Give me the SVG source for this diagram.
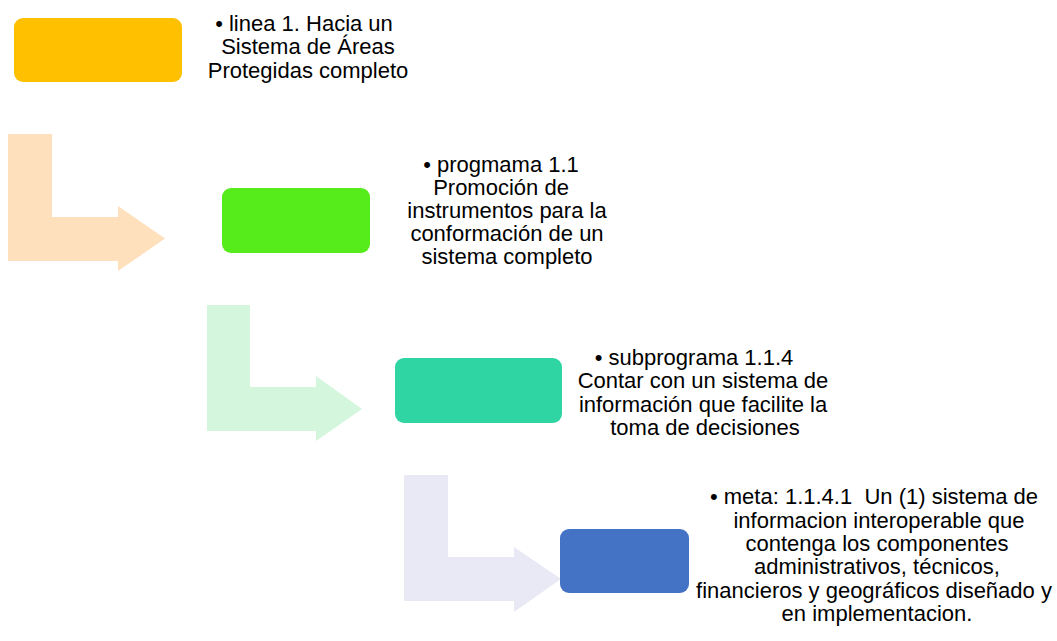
<svg xmlns="http://www.w3.org/2000/svg" width="1057" height="641" viewBox="0 0 1057 641">
<style>
text{font-family:"Liberation Sans",Arial,sans-serif;font-size:22px;fill:#000;text-anchor:middle;white-space:pre}
.box{rx:9px;ry:9px}
</style>
<rect width="1057" height="641" fill="#fff"/>
<g id="connectors">
<path d="M8,134 H52 V217 H118 V206 L165,238.5 L118,271 V261 H8 Z" fill="#FFE0BC"/>
<path d="M207,305 H250 V387 H316 V376 L362,409 L316,441 V431 H207 Z" fill="#D4F6DD"/>
<path d="M404,475 H448 V557 H514 V547 L561,579 L514,612 V601 H404 Z" fill="#E8E9F4"/>
</g>
<g id="node1">
<rect class="box" x="14" y="18" width="168" height="64" fill="#FFC000"/>
<text><tspan x="304" y="31">• linea 1. Hacia un</tspan><tspan x="308" y="54.3">Sistema de Áreas</tspan><tspan x="308" y="77.6">Protegidas completo</tspan></text>
</g>
<g id="node2">
<rect class="box" x="222" y="188" width="148" height="65" fill="#56EB1A"/>
<text><tspan x="501" y="171.5">• progmama 1.1</tspan><tspan x="501" y="194.5">Promoción de</tspan><tspan x="507" y="217.5">instrumentos para la</tspan><tspan x="507" y="240.5">conformación de un</tspan><tspan x="507" y="263.5">sistema completo</tspan></text>
</g>
<g id="node3">
<rect class="box" x="395" y="358" width="167" height="65" fill="#2FD6A3"/>
<text><tspan x="694" y="365">• subprograma 1.1.4</tspan><tspan x="703" y="388.3">Contar con un sistema de</tspan><tspan x="703" y="411.6">información que facilite la</tspan><tspan x="705" y="434.9">toma de decisiones</tspan></text>
</g>
<g id="node4">
<rect class="box" x="560" y="529" width="129" height="64" fill="#4472C4"/>
<text><tspan x="874" y="504.3">• meta: 1.1.4.1  Un (1) sistema de</tspan><tspan x="879" y="527.6">informacion interoperable que</tspan><tspan x="877" y="550.9">contenga los componentes</tspan><tspan x="877" y="574.2">administrativos, técnicos,</tspan><tspan x="874" y="597.5">financieros y geográficos diseñado y</tspan><tspan x="877" y="620.8">en implementacion.</tspan></text>
</g>
</svg>
